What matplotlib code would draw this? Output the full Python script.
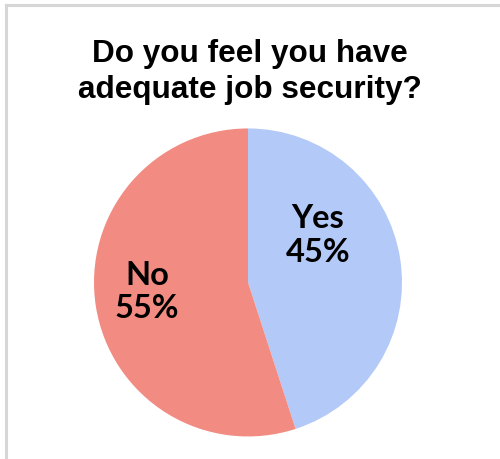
import matplotlib
matplotlib.use("Agg")
import matplotlib.pyplot as plt
from matplotlib.lines import Line2D

title = "Do you feel you have\nadequate job security?"
categories = ["Yes", "No"]
shares = [45, 55]
colors = ["#b3c9f7", "#f28b82"]

fig = plt.figure(figsize=(5.0, 4.6), dpi=100)
fig.patch.set_facecolor("white")

# light frame along the top and left edges
fig.add_artist(Line2D([6 / 500, 1], [1 - 6 / 460, 1 - 6 / 460],
                      transform=fig.transFigure, color="#d6d6d6", lw=2.2))
fig.add_artist(Line2D([6 / 500, 6 / 500], [0, 1 - 6 / 460],
                      transform=fig.transFigure, color="#d6d6d6", lw=2.2))

fig.text(0.5, 0.843, title, ha="center", va="center",
         fontsize=22.7, fontweight="bold", family="Liberation Sans",
         linespacing=1.25, color="black")

ax = fig.add_axes([0.188, 0.049, 0.616, 0.6696])
ax.pie(shares, colors=colors, startangle=90, counterclock=False,
       wedgeprops=dict(linewidth=0))
ax.set_xlim(-1, 1)
ax.set_ylim(-1, 1)
ax.set_aspect("equal")
ax.axis("off")

label_pos = {"Yes": (0.455, 0.31), "No": (-0.655, -0.055)}
for cat, val in zip(categories, shares):
    x, y = label_pos[cat]
    ax.text(x, y, f"{cat}\n{val}%", ha="center", va="center",
            fontsize=23.5, fontweight="bold", family="Lato",
            linespacing=1.2, color="black")

fig.savefig("out.png", dpi=100, facecolor="white")
